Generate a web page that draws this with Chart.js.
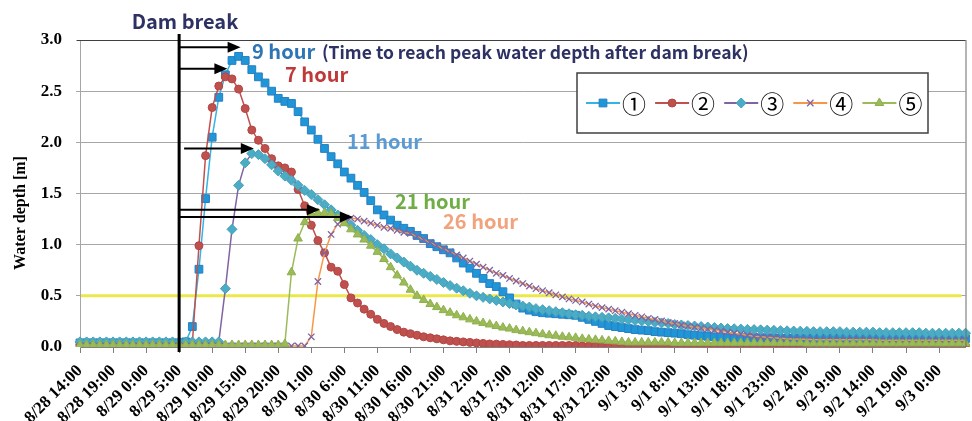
<!DOCTYPE html>
<html>
<head>
<meta charset="utf-8">
<script src="https://cdn.jsdelivr.net/npm/chart.js@4.4.0/dist/chart.umd.min.js"></script>
<style>
  html, body { margin: 0; padding: 0; background: #fff; }
  #wrap { width: 972px; height: 421px; }
</style>
</head>
<body>
<div id="wrap"><canvas id="depthChart" width="972" height="421"></canvas></div>
<script>
// hourly steps from 8/28 14:00
const days = ['8/28', '8/29', '8/30', '8/31', '9/1', '9/2', '9/3'];
const firstHour = 14;
const pointCount = 135;

// labels shown every 5 hours
const tickLabels = [
  '8/28 14:00', '8/28 19:00', '8/29 0:00', '8/29 5:00', '8/29 10:00', '8/29 15:00',
  '8/29 20:00', '8/30 1:00', '8/30 6:00', '8/30 11:00', '8/30 16:00', '8/30 21:00',
  '8/31 2:00', '8/31 7:00', '8/31 12:00', '8/31 17:00', '8/31 22:00', '9/1 3:00',
  '9/1 8:00', '9/1 13:00', '9/1 18:00', '9/1 23:00', '9/2 4:00', '9/2 9:00',
  '9/2 14:00', '9/2 19:00', '9/3 0:00'
];
const tickStep = 5;

const seriesNames = ['①', '②', '③', '④', '⑤'];

const s1 = [
  0.04, 0.04, 0.04, 0.04, 0.04, 0.04, 0.04, 0.04, 0.04, 0.04,
  0.04, 0.04, 0.04, 0.04, 0.04, 0.04, 0.05, 0.20, 0.76, 1.45,
  2.05, 2.44, 2.66, 2.80, 2.84, 2.80, 2.71, 2.64, 2.58, 2.50,
  2.43, 2.40, 2.38, 2.30, 2.20, 2.12, 2.03, 1.94, 1.86, 1.79,
  1.71, 1.65, 1.58, 1.51, 1.43, 1.34, 1.29, 1.24, 1.19, 1.16,
  1.13, 1.09, 1.06, 1.01, 0.98, 0.95, 0.92, 0.87, 0.82, 0.77,
  0.72, 0.67, 0.62, 0.59, 0.54, 0.48, 0.42, 0.38, 0.36, 0.345,
  0.335, 0.33, 0.325, 0.32, 0.315, 0.31, 0.29, 0.27, 0.25, 0.23,
  0.21, 0.20, 0.19, 0.18, 0.17, 0.165, 0.16, 0.15, 0.145, 0.14,
  0.135, 0.13, 0.12, 0.115, 0.11, 0.105, 0.10, 0.095, 0.09, 0.09,
  0.09, 0.09, 0.09, 0.09, 0.09, 0.09, 0.085, 0.085, 0.085, 0.085,
  0.085, 0.085, 0.085, 0.085, 0.085, 0.085, 0.085, 0.085, 0.085, 0.085,
  0.085, 0.08, 0.08, 0.08, 0.08, 0.08, 0.08, 0.08, 0.08, 0.08,
  0.08, 0.08, 0.08, 0.08, 0.08
];
const s2 = [
  0.02, 0.02, 0.02, 0.02, 0.02, 0.02, 0.02, 0.02, 0.02, 0.02,
  0.02, 0.02, 0.02, 0.02, 0.02, 0.02, 0.02, 0.03, 0.99, 1.87,
  2.34, 2.55, 2.64, 2.62, 2.52, 2.33, 2.12, 2.02, 1.94, 1.84,
  1.77, 1.75, 1.71, 1.54, 1.38, 1.19, 1.04, 0.92, 0.78, 0.74,
  0.61, 0.48, 0.43, 0.37, 0.32, 0.27, 0.23, 0.20, 0.17, 0.145,
  0.13, 0.115, 0.10, 0.09, 0.08, 0.07, 0.06, 0.055, 0.05, 0.045,
  0.04, 0.035, 0.03, 0.028, 0.025, 0.022, 0.02, 0.015, 0.015, 0.015,
  0.015, 0.015, 0.015, 0.015, 0.015, 0.015, 0.01, 0.01, 0.01, 0.01,
  0.01, 0.01, 0.01, 0.01, 0.01, 0.01, 0.01, 0.01, 0.01, 0.01,
  0.01, 0.01, 0.01, 0.01, 0.01, 0.01, 0.01, 0.01, 0.01, 0.01,
  0.01, 0.01, 0.01, 0.01, 0.01, 0.01, 0.01, 0.01, 0.01, 0.01,
  0.01, 0.01, 0.01, 0.01, 0.01, 0.01, 0.01, 0.01, 0.01, 0.01,
  0.01, 0.01, 0.01, 0.01, 0.01, 0.01, 0.01, 0.01, 0.01, 0.01,
  0.01, 0.01, 0.01, 0.01, 0.01
];
const s3 = [
  0.05, 0.05, 0.05, 0.05, 0.05, 0.05, 0.05, 0.05, 0.05, 0.05,
  0.05, 0.05, 0.05, 0.05, 0.05, 0.05, 0.05, 0.05, 0.05, 0.05,
  0.05, 0.05, 0.57, 1.15, 1.58, 1.80, 1.89, 1.88, 1.84, 1.78,
  1.72, 1.67, 1.63, 1.58, 1.53, 1.49, 1.44, 1.39, 1.34, 1.29,
  1.24, 1.19, 1.14, 1.09, 1.05, 1.00, 0.96, 0.91, 0.87, 0.83,
  0.79, 0.75, 0.72, 0.69, 0.66, 0.63, 0.60, 0.575, 0.55, 0.525,
  0.50, 0.485, 0.47, 0.455, 0.44, 0.425, 0.41, 0.40, 0.39, 0.375,
  0.365, 0.355, 0.345, 0.335, 0.325, 0.315, 0.31, 0.30, 0.295, 0.29,
  0.285, 0.28, 0.27, 0.265, 0.26, 0.255, 0.25, 0.24, 0.235, 0.23,
  0.22, 0.215, 0.21, 0.205, 0.20, 0.195, 0.19, 0.185, 0.18, 0.178,
  0.175, 0.172, 0.17, 0.168, 0.165, 0.163, 0.16, 0.158, 0.156, 0.155,
  0.153, 0.15, 0.15, 0.15, 0.15, 0.15, 0.145, 0.145, 0.145, 0.145,
  0.145, 0.14, 0.14, 0.14, 0.14, 0.14, 0.14, 0.14, 0.135, 0.135,
  0.135, 0.135, 0.135, 0.135, 0.135
];
const s4 = [
  0.01, 0.01, 0.01, 0.01, 0.01, 0.01, 0.01, 0.01, 0.01, 0.01,
  0.01, 0.01, 0.01, 0.01, 0.01, 0.01, 0.01, 0.01, 0.01, 0.01,
  0.01, 0.01, 0.01, 0.01, 0.01, 0.01, 0.01, 0.01, 0.01, 0.01,
  0.01, 0.01, 0.01, 0.01, 0.01, 0.10, 0.64, 0.92, 1.10, 1.20,
  1.25, 1.26, 1.25, 1.23, 1.21, 1.19, 1.17, 1.16, 1.14, 1.12,
  1.11, 1.08, 1.05, 1.02, 0.99, 0.96, 0.93, 0.90, 0.87, 0.84,
  0.81, 0.78, 0.75, 0.72, 0.70, 0.67, 0.645, 0.62, 0.595, 0.57,
  0.55, 0.53, 0.51, 0.49, 0.47, 0.455, 0.44, 0.42, 0.40, 0.385,
  0.37, 0.355, 0.34, 0.325, 0.31, 0.295, 0.28, 0.27, 0.255, 0.24,
  0.23, 0.215, 0.205, 0.195, 0.185, 0.175, 0.165, 0.155, 0.145, 0.135,
  0.125, 0.115, 0.105, 0.10, 0.095, 0.09, 0.085, 0.08, 0.078, 0.076,
  0.075, 0.07, 0.07, 0.07, 0.07, 0.07, 0.07, 0.07, 0.07, 0.07,
  0.07, 0.065, 0.065, 0.065, 0.065, 0.065, 0.065, 0.065, 0.065, 0.065,
  0.065, 0.065, 0.065, 0.065, 0.065
];
const s5 = [
  0.02, 0.02, 0.02, 0.02, 0.02, 0.02, 0.02, 0.02, 0.02, 0.02,
  0.02, 0.02, 0.02, 0.02, 0.02, 0.02, 0.02, 0.02, 0.02, 0.02,
  0.02, 0.02, 0.02, 0.02, 0.02, 0.02, 0.02, 0.02, 0.02, 0.02,
  0.02, 0.03, 0.73, 1.06, 1.22, 1.29, 1.31, 1.31, 1.30, 1.26,
  1.21, 1.15, 1.10, 1.05, 0.99, 0.93, 0.86, 0.78, 0.70, 0.63,
  0.56, 0.50, 0.46, 0.42, 0.39, 0.36, 0.335, 0.31, 0.29, 0.27,
  0.25, 0.235, 0.22, 0.205, 0.19, 0.18, 0.165, 0.155, 0.145, 0.135,
  0.125, 0.115, 0.11, 0.10, 0.095, 0.09, 0.08, 0.075, 0.07, 0.065,
  0.06, 0.055, 0.05, 0.045, 0.045, 0.045, 0.045, 0.045, 0.045, 0.045,
  0.04, 0.04, 0.04, 0.04, 0.04, 0.04, 0.04, 0.04, 0.04, 0.04,
  0.04, 0.04, 0.04, 0.04, 0.04, 0.04, 0.04, 0.04, 0.04, 0.04,
  0.035, 0.035, 0.035, 0.035, 0.035, 0.035, 0.035, 0.035, 0.035, 0.035,
  0.035, 0.035, 0.035, 0.035, 0.035, 0.035, 0.035, 0.035, 0.035, 0.035,
  0.035, 0.035, 0.035, 0.035, 0.035
];

const damBreakIndex = 15;          // 8/29 5:00
const peakHours = [9, 7, 11, 21, 26];
const arrowLevels = [2.93, 2.72, 1.94, 1.34, 1.27];
const warningLevel = 0.5;

const categories = [];
let day = 0, hour = firstHour;
for (let i = 0; i < pointCount; i++) {
  categories.push(days[day] + ' ' + hour + ':00');
  hour++;
  if (hour === 24) { hour = 0; day++; }
}

const styles = [
  { line: '#33b3e8', fill: '#1e96d8', edge: '#2a7fc0', shape: 'rect', r: 5.5 },
  { line: '#c0504d', fill: '#c0504d', edge: '#b04643', shape: 'circle', r: 4 },
  { line: '#8064a2', fill: '#4bacc6', edge: '#45a0b8', shape: 'rectRot', r: 5 },
  { line: '#f79646', fill: '#8064a2', edge: '#8064a2', shape: 'crossRot', r: 4.5 },
  { line: '#9bbb59', fill: '#9bbb59', edge: '#8fb04d', shape: 'triangle', r: 5 }
];
const seriesData = [s1, s2, s3, s4, s5];

const serif = '"Liberation Serif", "Times New Roman", serif';
const sans = '"Noto Sans CJK JP", "Noto Sans", sans-serif';

function drawMarker(ctx, shape, x, y, r, fill, edge) {
  ctx.save();
  ctx.fillStyle = fill;
  ctx.strokeStyle = edge;
  ctx.lineWidth = 1;
  ctx.beginPath();
  if (shape === 'rect') {
    const s = r * Math.SQRT1_2;
    ctx.rect(x - s, y - s, 2 * s, 2 * s);
    ctx.fill(); ctx.stroke();
  } else if (shape === 'circle') {
    ctx.arc(x, y, r, 0, Math.PI * 2);
    ctx.fill(); ctx.stroke();
  } else if (shape === 'rectRot') {
    ctx.moveTo(x, y - r); ctx.lineTo(x + r, y); ctx.lineTo(x, y + r); ctx.lineTo(x - r, y);
    ctx.closePath(); ctx.fill(); ctx.stroke();
  } else if (shape === 'crossRot') {
    const s = r * Math.SQRT1_2;
    ctx.lineWidth = 1.3;
    ctx.moveTo(x - s, y - s); ctx.lineTo(x + s, y + s);
    ctx.moveTo(x + s, y - s); ctx.lineTo(x - s, y + s);
    ctx.stroke();
  } else if (shape === 'triangle') {
    ctx.moveTo(x, y - r); ctx.lineTo(x + r * 0.87, y + r * 0.5); ctx.lineTo(x - r * 0.87, y + r * 0.5);
    ctx.closePath(); ctx.fill(); ctx.stroke();
  }
  ctx.restore();
}

function drawArrow(ctx, x0, x1, y) {
  ctx.save();
  ctx.strokeStyle = '#000';
  ctx.fillStyle = '#000';
  ctx.lineWidth = 2;
  ctx.beginPath();
  ctx.moveTo(x0, y);
  ctx.lineTo(x1 - 10, y);
  ctx.stroke();
  ctx.beginPath();
  ctx.moveTo(x1, y);
  ctx.lineTo(x1 - 13, y - 5.5);
  ctx.lineTo(x1 - 13, y + 5.5);
  ctx.closePath();
  ctx.fill();
  ctx.restore();
}

function drawText(ctx, text, x, y, font, color, align) {
  ctx.save();
  ctx.font = font;
  ctx.fillStyle = color;
  ctx.textAlign = align || 'left';
  ctx.textBaseline = 'middle';
  ctx.fillText(text, x, y);
  ctx.restore();
}

const overlayPlugin = {
  id: 'overlay',
  beforeDatasetsDraw(chart) {
    const { ctx, chartArea, scales } = chart;
    const yy = scales.y.getPixelForValue(warningLevel);
    ctx.save();
    ctx.strokeStyle = '#ebe84a';
    ctx.lineWidth = 3;
    ctx.beginPath();
    ctx.moveTo(chartArea.left + 1, yy);
    ctx.lineTo(chartArea.right - 4, yy);
    ctx.stroke();
    ctx.restore();
  },
  afterDatasetsDraw(chart) {
    const { ctx, chartArea, scales } = chart;
    const x = scales.x, y = scales.y;

    // plot frame (top and right)
    ctx.save();
    ctx.strokeStyle = '#404040';
    ctx.lineWidth = 1;
    ctx.beginPath();
    ctx.moveTo(chartArea.left - 3, chartArea.top + 0.5);
    ctx.lineTo(chartArea.right, chartArea.top + 0.5);
    ctx.stroke();
    ctx.strokeStyle = '#6b6b6b';
    ctx.beginPath();
    ctx.moveTo(chartArea.right + 0.5, chartArea.top);
    ctx.lineTo(chartArea.right + 0.5, chartArea.bottom);
    ctx.stroke();
    ctx.restore();

    // dam break line
    const xb = x.getPixelForValue(damBreakIndex);
    ctx.save();
    ctx.strokeStyle = '#000';
    ctx.lineWidth = 3;
    ctx.beginPath();
    ctx.moveTo(xb, chartArea.top - 6);
    ctx.lineTo(xb, chartArea.bottom + 5);
    ctx.stroke();
    ctx.restore();

    // arrows to each peak
    peakHours.forEach((h, k) => {
      const start = k === 2 ? xb + 5 : xb;
      drawArrow(ctx, start, x.getPixelForValue(damBreakIndex + h) + 2, y.getPixelForValue(arrowLevels[k]));
    });

    drawText(ctx, 'Dam break', 185, 21, 'bold 20px ' + sans, '#2e3163', 'center');
    drawText(ctx, '9 hour', 252, 51, 'bold 20px ' + sans, '#2e75b6');
    drawText(ctx, '(Time to reach peak water depth after dam break)', 322, 52, 'bold 17.5px ' + sans, '#2e3163');
    drawText(ctx, '7 hour', 285, 74, 'bold 20px ' + sans, '#be3a3a');
    drawText(ctx, '11 hour', 347, 141, 'bold 20px ' + sans, '#5b9bd5');
    drawText(ctx, '21 hour', 395, 201, 'bold 20px ' + sans, '#70ad47');
    drawText(ctx, '26 hour', 443, 221, 'bold 20px ' + sans, '#f0a37c');

    // legend box
    ctx.save();
    ctx.fillStyle = '#fff';
    ctx.strokeStyle = '#404040';
    ctx.lineWidth = 1.5;
    ctx.fillRect(577, 73, 351, 60);
    ctx.strokeRect(577, 73, 351, 60);
    ctx.restore();
    seriesNames.forEach((name, k) => {
      const st = styles[k];
      const lx = 586 + k * 69.1;
      const ly = 103;
      ctx.save();
      ctx.strokeStyle = st.line;
      ctx.lineWidth = 2;
      ctx.beginPath();
      ctx.moveTo(lx, ly);
      ctx.lineTo(lx + 34, ly);
      ctx.stroke();
      ctx.restore();
      drawMarker(ctx, st.shape, lx + 17, ly, st.r, st.fill, st.edge);
      drawText(ctx, name, lx + 36, ly + 1, '24px ' + sans, '#000');
    });

    // y axis title
    ctx.save();
    ctx.translate(21, 213);
    ctx.rotate(-Math.PI / 2);
    drawText(ctx, 'Water depth [m]', 0, 0, 'bold 16px ' + serif, '#000', 'center');
    ctx.restore();
  }
};

const datasets = seriesData.map((data, k) => ({
  label: seriesNames[k],
  data: data,
  borderColor: styles[k].line,
  backgroundColor: styles[k].fill,
  borderWidth: 1.5,
  pointStyle: styles[k].shape,
  pointRadius: styles[k].r,
  pointBackgroundColor: styles[k].fill,
  pointBorderColor: styles[k].edge,
  pointBorderWidth: k === 3 ? 1.3 : 1,
  tension: 0,
  order: 5 - k
}));

new Chart(document.getElementById('depthChart'), {
  type: 'line',
  data: { labels: categories, datasets: datasets },
  options: {
    responsive: false,
    animation: false,
    devicePixelRatio: 1,
    layout: { padding: { top: 40, right: 6, left: 0, bottom: 0 } },
    plugins: {
      legend: { display: false },
      tooltip: { enabled: false }
    },
    scales: {
      x: {
        type: 'category',
        offset: false,
        afterFit: (s) => { s.height = 74; s.paddingRight = 0; s.paddingLeft = 0; },
        grid: {
          drawOnChartArea: false,
          drawTicks: true,
          tickLength: 6,
          color: (c) => (c.index % tickStep === 0 ? '#7f7f7f' : 'rgba(0,0,0,0)')
        },
        border: { color: '#7f7f7f', width: 1 },
        ticks: {
          autoSkip: false,
          maxRotation: 45,
          minRotation: 45,
          padding: 8,
          color: '#000',
          font: { family: serif, size: 17, weight: 'bold' },
          callback: (v, i) => (i % tickStep === 0 ? tickLabels[i / tickStep] : '')
        }
      },
      y: {
        min: 0,
        max: 3,
        afterFit: (s) => { s.width = 80; },
        grid: {
          color: (c) => (c.tick.value === 0 ? 'rgba(0,0,0,0)' : '#a6a6a6'),
          tickLength: 4
        },
        border: { color: '#a6a6a6', width: 1 },
        ticks: {
          stepSize: 0.5,
          padding: 14,
          color: '#000',
          font: { family: serif, size: 17, weight: 'bold' },
          callback: (v) => Number(v).toFixed(1)
        }
      }
    }
  },
  plugins: [overlayPlugin]
});
</script>
</body>
</html>
